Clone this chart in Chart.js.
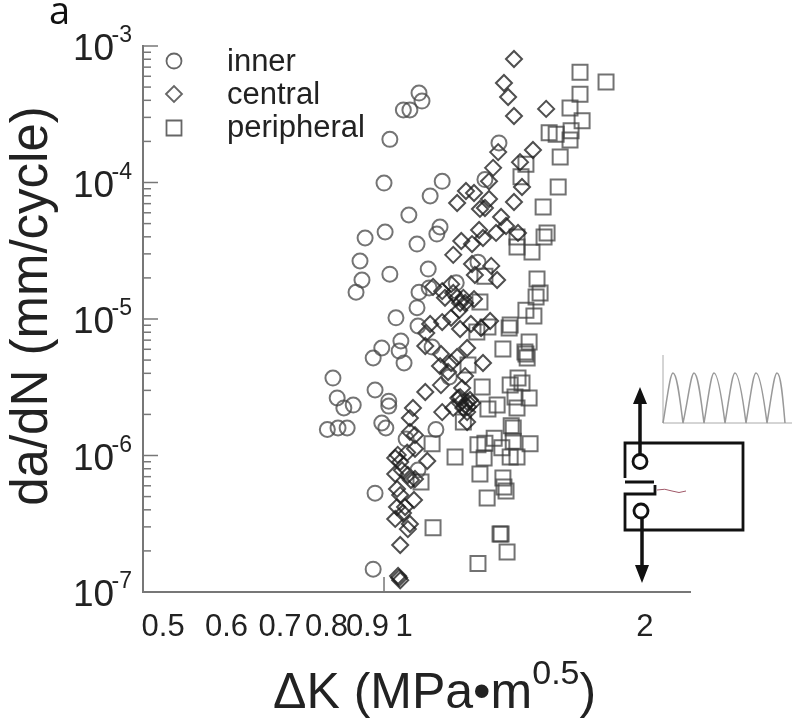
<!DOCTYPE html>
<html>
<head>
<meta charset="utf-8">
<title>da/dN vs dK</title>
<script src="https://cdn.jsdelivr.net/npm/chart.js@4/dist/chart.umd.js"></script>
<style>
    html, body { margin: 0; padding: 0; background: #fff; }
    #wrap { position: relative; width: 800px; height: 723px; overflow: hidden; }
    #chart { position: absolute; left: 0; top: 0; }
    #inset { position: absolute; left: 0; top: 0; pointer-events: none; }
</style>
</head>
<body>
<div id="wrap">
    <canvas id="chart" width="800" height="723"></canvas>
    <!-- specimen sketch and load waveform -->
    <svg id="inset" width="800" height="723" fill="none">
        <path d="M663 355V423H792" stroke="#aaa" stroke-width="1"/>
        <path d="M663 423C667 400 670 373 673 373C677 373 680 400 683 423C688 400 691 373 694 373C698 373 701 400 704 423C708 400 711 373 714 373C718 373 722 400 725 423C729 400 732 373 735 373C739 373 743 400 746 423C750 400 753 373 756 373C760 373 764 400 767 423C771 400 774 373 777 373C781 373 783 400 785 423" stroke="#999" stroke-width="1.5"/>
        <path d="M625 478V443H743V530H625V494H655V485M625 482H654" stroke="#111" stroke-width="2.8"/>
        <circle cx="640" cy="461.5" r="7" stroke="#111" stroke-width="2.8"/>
        <circle cx="641" cy="511" r="7" stroke="#111" stroke-width="2.8"/>
        <path d="M657 490Q665 488 672 491T686 491" stroke="#a05868" stroke-width="1"/>
        <path d="M640 454V398M642 518V570" stroke="#111" stroke-width="3.5"/>
        <path d="M640 387L647 404H633ZM642 583L649 565H635Z" fill="#111"/>
    </svg>
</div>
<script>
// ===================================
// DATA
// ===================================

const seriesNames = ['inner', 'central', 'peripheral'];

const xTickValues = [0.5, 0.6, 0.7, 0.8, 0.9, 1, 2];
const yDecades = [1e-3, 1e-4, 1e-5, 1e-6, 1e-7];
const yExponents = ['-3', '-4', '-5', '-6', '-7'];
const yMinorFactors = [2, 3, 4, 5, 6, 7, 8, 9];
const xLoneTick = [0.944];

const innerX = [1.044, 1.053, 0.998, 1.017, 0.960, 0.944, 1.116, 1.078, 1.014, 1.109, 1.099, 0.947, 0.894,
    1.038, 0.881, 0.886, 0.871, 0.960, 1.072, 1.237, 1.162, 1.044, 1.075, 1.038, 0.977, 1.041, 1.084,
    0.991, 0.986, 1.000, 0.938, 0.915, 0.815, 0.825, 0.864, 0.841, 0.920, 0.957, 0.957, 1.139, 0.938,
    0.949, 0.849, 0.827, 0.802, 1.096, 1.006, 0.920, 0.915, 1.041, 1.314, 1.262];
const innerY = [4.52e-4, 3.95e-4, 3.40e-4, 3.40e-4, 2.07e-4, 9.9e-5, 1.02e-4, 7.97e-5, 5.78e-5, 4.72e-5, 4.19e-5, 4.34e-5, 3.92e-5,
    3.54e-5, 2.66e-5, 1.93e-5, 1.57e-5, 2.13e-5, 2.32e-5, 2.61e-5, 1.84e-5, 1.57e-5, 1.69e-5, 1.21e-5, 1.02e-5, 8.89e-6, 6.23e-6,
    6.90e-6, 5.83e-6, 4.76e-6, 6.13e-6, 5.18e-6, 3.69e-6, 2.64e-6, 2.34e-6, 2.23e-6, 3.02e-6, 2.5e-6, 2.30e-6, 3.76e-6, 1.73e-6,
    1.59e-6, 1.59e-6, 1.59e-6, 1.55e-6, 1.55e-6, 1.32e-6, 5.3e-7, 1.47e-7, 7.83e-7, 1.95e-4, 1.05e-4];

const centralX = [1.372, 1.333, 1.349, 1.372, 1.505, 1.449, 1.311, 1.292, 1.396, 1.277, 1.404, 1.195, 1.223, 1.165,
    1.277, 1.372, 1.244, 1.262, 1.322, 1.241, 1.341, 1.303, 1.388, 1.179, 1.216, 1.255, 1.152, 1.216, 1.285,
    1.226, 1.307, 1.087, 1.145, 1.116, 1.125, 1.165, 1.192, 1.223, 1.172, 1.145, 1.116, 1.078, 1.066, 1.175,
    1.212, 1.248, 1.281, 1.063, 1.112, 1.199, 1.165, 1.145, 1.109, 1.135, 1.255, 1.192, 1.112, 1.063, 1.182,
    1.175, 1.199, 1.216, 1.026, 1.116, 1.152, 1.192, 1.199, 1.199, 1.017, 1.017, 1.032, 1.032, 1.009, 0.982,
    0.989, 1.069, 0.975, 1.011, 1.020, 1.032, 0.980, 0.989, 1.029, 0.980, 1.003, 0.997, 0.975, 1.017, 1.011,
    0.989, 0.983, 0.989, 0.986, 0.975, 0.994, 1.175, 1.186, 1.209, 1.169, 1.202, 1.152, 1.175, 1.186];
const centralY = [8.03e-4, 5.36e-4, 4.23e-4, 3.07e-4, 3.46e-4, 1.73e-4, 1.67e-4, 1.28e-4, 1.41e-4, 1.02e-4, 9.27e-5, 8.66e-5, 8.38e-5, 7.08e-5,
    7.57e-5, 7.2e-5, 6.4e-5, 6.5e-5, 5.59e-5, 4.49e-5, 4.8e-5, 4.27e-5, 4.27e-5, 3.73e-5, 3.54e-5, 3.92e-5, 2.95e-5, 2.53e-5, 2.45e-5,
    2.1e-5, 1.93e-5, 1.72e-5, 1.8e-5, 1.6e-5, 1.43e-5, 1.43e-5, 1.31e-5, 1.40e-5, 1.16e-5, 1.02e-5, 9.5e-6, 9.19e-6, 7.9e-6, 8.45e-6,
    9.19e-6, 8.59e-6, 9.67e-6, 6.34e-6, 5.54e-6, 6.13e-6, 5.27e-6, 4.76e-6, 4.52e-6, 4.09e-6, 4.76e-6, 3.82e-6, 3.28e-6, 2.92e-6, 3.12e-6,
    2.68e-6, 2.47e-6, 2.42e-6, 2.23e-6, 2.08e-6, 2.23e-6, 2.34e-6, 2.08e-6, 1.76e-6, 1.88e-6, 1.49e-6, 1.41e-6, 1.12e-6, 1.05e-6, 1.01e-6,
    8.96e-7, 9.11e-7, 7.32e-7, 7.2e-7, 6.61e-7, 6.73e-7, 5.69e-7, 5.13e-7, 4.72e-7, 4.19e-7, 4.19e-7, 3.79e-7, 3.43e-7, 3.15e-7, 2.89e-7,
    2.21e-7, 1.31e-7, 1.22e-7, 1.27e-7, 9.6e-7, 7.8e-7, 2.42e-6, 2.23e-6, 2.55e-6, 2.64e-6, 2.27e-6, 1.55e-5, 1.31e-5, 1.43e-5];

const peripheralX = [1.659, 1.788, 1.659, 1.612, 1.669, 1.518, 1.549, 1.617, 1.612, 1.567, 1.558, 1.420, 1.400, 1.492,
    1.509, 1.496, 1.384, 1.445, 1.384, 1.262, 1.466, 1.479, 1.462, 1.420, 1.453, 1.244, 1.357, 1.353, 1.273,
    1.233, 1.433, 1.329, 1.416, 1.420, 1.425, 1.202, 1.252, 1.388, 1.357, 1.404, 1.376, 1.433, 1.307, 1.273,
    1.384, 1.186, 1.084, 1.237, 1.262, 1.296, 1.361, 1.369, 1.369, 1.437, 1.325, 1.357, 1.384, 1.158, 1.259,
    1.244, 1.329, 1.050, 1.333, 1.341, 1.270, 1.087, 1.318, 1.322, 1.345, 1.237];
const peripheralY = [6.42e-4, 5.45e-4, 4.44e-4, 3.52e-4, 2.83e-4, 2.31e-4, 2.26e-4, 2.39e-4, 2.05e-4, 1.54e-4, 9.27e-5, 1.36e-4, 1.10e-4, 6.61e-5,
    4.27e-5, 3.99e-5, 3.37e-5, 3.09e-5, 3.99e-5, 2.06e-5, 1.96e-5, 1.55e-5, 1.45e-5, 1.16e-5, 1.05e-5, 1.33e-5, 9.03e-6, 8.59e-6, 8.73e-6,
    8.03e-6, 6.78e-6, 6.03e-6, 5.73e-6, 5.54e-6, 5.18e-6, 4.6e-6, 3.17e-6, 3.69e-6, 3.28e-6, 3.40e-6, 2.68e-6, 2.64e-6, 2.34e-6, 2.19e-6,
    2.23e-6, 1.76e-6, 1.22e-6, 1.2e-6, 1.23e-6, 1.34e-6, 1.65e-6, 1.59e-6, 1.27e-6, 1.22e-6, 1.14e-6, 9.75e-7, 9.75e-7, 9.75e-7, 9.6e-7,
    7.32e-7, 6.84e-7, 6.4e-7, 5.87e-7, 5.49e-7, 4.88e-7, 2.95e-7, 2.66e-7, 2.66e-7, 1.96e-7, 1.62e-7];

// ===================================
// HELPERS
// ===================================

const FONT = '"Liberation Sans", Arial, sans-serif';
const AXIS_COLOR = '#777';
const TEXT_COLOR = '#222';

function toPoints(xs, ys) {
    return xs.map((x, i) => ({ x: x, y: ys[i] }));
}

function dataset(label, xs, ys, style, radius, color) {
    return {
        label: label,
        data: toPoints(xs, ys),
        showLine: false,
        pointStyle: style,
        pointRadius: radius,
        pointHoverRadius: radius,
        pointBackgroundColor: 'transparent',
        pointBorderColor: color,
        pointBorderWidth: 2
    };
}

// ===================================
// AXIS DECORATION AND LABELS
// ===================================

// inward ticks, superscript labels and the legend are not things Chart.js does by itself
const decorations = {
    id: 'decorations',
    afterDraw(chart) {
        const ctx = chart.ctx;
        const xs = chart.scales.x;
        const ys = chart.scales.y;
        const area = chart.chartArea;

        ctx.save();
        ctx.strokeStyle = AXIS_COLOR;
        ctx.lineWidth = 1.5;

        // y ticks
        yDecades.forEach((d, i) => {
            const py = ys.getPixelForValue(d);
            ctx.beginPath();
            ctx.moveTo(area.left, py);
            ctx.lineTo(area.left + 15, py);
            ctx.stroke();
            if (i === yDecades.length - 1) return;
            yMinorFactors.forEach((f) => {
                const my = ys.getPixelForValue(d * f / 10);
                ctx.beginPath();
                ctx.moveTo(area.left, my);
                ctx.lineTo(area.left + 8, my);
                ctx.stroke();
            });
        });

        // the single tick on the x axis
        xLoneTick.forEach((v) => {
            const px = xs.getPixelForValue(v);
            ctx.beginPath();
            ctx.moveTo(px, area.bottom);
            ctx.lineTo(px, area.bottom - 15);
            ctx.stroke();
        });

        ctx.fillStyle = TEXT_COLOR;
        ctx.textBaseline = 'alphabetic';

        // y tick labels
        yDecades.forEach((d, i) => {
            const py = ys.getPixelForValue(d);
            ctx.textAlign = 'left';
            ctx.font = '37px ' + FONT;
            ctx.fillText('10', 73, py + 14);
            ctx.textAlign = 'right';
            ctx.font = '23px ' + FONT;
            ctx.fillText(yExponents[i], 132, py - 4);
        });

        // y title
        ctx.save();
        ctx.translate(47, 306);
        ctx.rotate(-Math.PI / 2);
        ctx.textAlign = 'center';
        ctx.font = '51px ' + FONT;
        ctx.fillText('da/dN (mm/cycle)', 0, 0);
        ctx.restore();

        // x title with superscript
        ctx.textAlign = 'left';
        let tx = 273;
        ctx.font = '50px ' + FONT;
        ctx.fillText('\u0394K (MPa\u2022m', tx, 708);
        tx += ctx.measureText('\u0394K (MPa\u2022m').width;
        ctx.font = '34px ' + FONT;
        ctx.fillText('0.5', tx, 684);
        tx += ctx.measureText('0.5').width;
        ctx.font = '50px ' + FONT;
        ctx.fillText(')', tx, 708);

        // panel letter
        ctx.font = '38px "Open Sans", sans-serif';
        ctx.fillStyle = '#111';
        ctx.fillText('a', 49, 24);

        // legend
        const legendY = [61, 94, 128];
        const baselines = [71, 104, 137];
        chart.data.datasets.forEach((ds, i) => {
            ctx.strokeStyle = '#666';
            ctx.fillStyle = 'transparent';
            ctx.lineWidth = 1.8;
            Chart.helpers.drawPoint(ctx, {
                pointStyle: ds.pointStyle,
                radius: ds.pointRadius,
                borderWidth: 1.8,
                rotation: 0
            }, 174, legendY[i]);
            ctx.fillStyle = TEXT_COLOR;
            ctx.font = '31px ' + FONT;
            ctx.fillText(seriesNames[i], 227, baselines[i]);
        });

        ctx.restore();
    }
};

// ===================================
// CHART
// ===================================

function initChart() {
    const ctx = document.getElementById('chart').getContext('2d');

    new Chart(ctx, {
        type: 'scatter',
        data: {
            datasets: [
                dataset(seriesNames[0], innerX, innerY, 'circle', 7.5, 'rgba(70, 70, 70, 0.75)'),
                dataset(seriesNames[1], centralX, centralY, 'rectRot', 8, 'rgba(30, 30, 30, 0.78)'),
                dataset(seriesNames[2], peripheralX, peripheralY, 'rect', 10.6, 'rgba(60, 60, 60, 0.72)')
            ]
        },
        options: {
            responsive: false,
            animation: false,
            devicePixelRatio: 1,
            layout: { padding: { top: 46, right: 110, left: 0, bottom: 0 } },
            plugins: {
                legend: { display: false },
                tooltip: { enabled: false }
            },
            scales: {
                x: {
                    type: 'logarithmic',
                    min: 0.4719,
                    max: 2.2765,
                    afterBuildTicks: (scale) => {
                        scale.ticks = xTickValues.map((v) => ({ value: v }));
                    },
                    afterFit: (scale) => { scale.height = 131; },
                    border: { color: AXIS_COLOR, width: 2 },
                    grid: { drawOnChartArea: false, drawTicks: false },
                    ticks: {
                        color: TEXT_COLOR,
                        font: { family: FONT, size: 31 },
                        padding: 17,
                        autoSkip: false,
                        maxRotation: 0,
                        minRotation: 0,
                        callback: (value) => String(value)
                    }
                },
                y: {
                    type: 'logarithmic',
                    min: 1e-7,
                    max: 1e-3,
                    afterFit: (scale) => { scale.width = 143; },
                    border: { color: AXIS_COLOR, width: 2 },
                    grid: { drawOnChartArea: false, drawTicks: false },
                    ticks: { display: false }
                }
            }
        },
        plugins: [decorations]
    });
}

window.addEventListener('DOMContentLoaded', initChart);
</script>
</body>
</html>
